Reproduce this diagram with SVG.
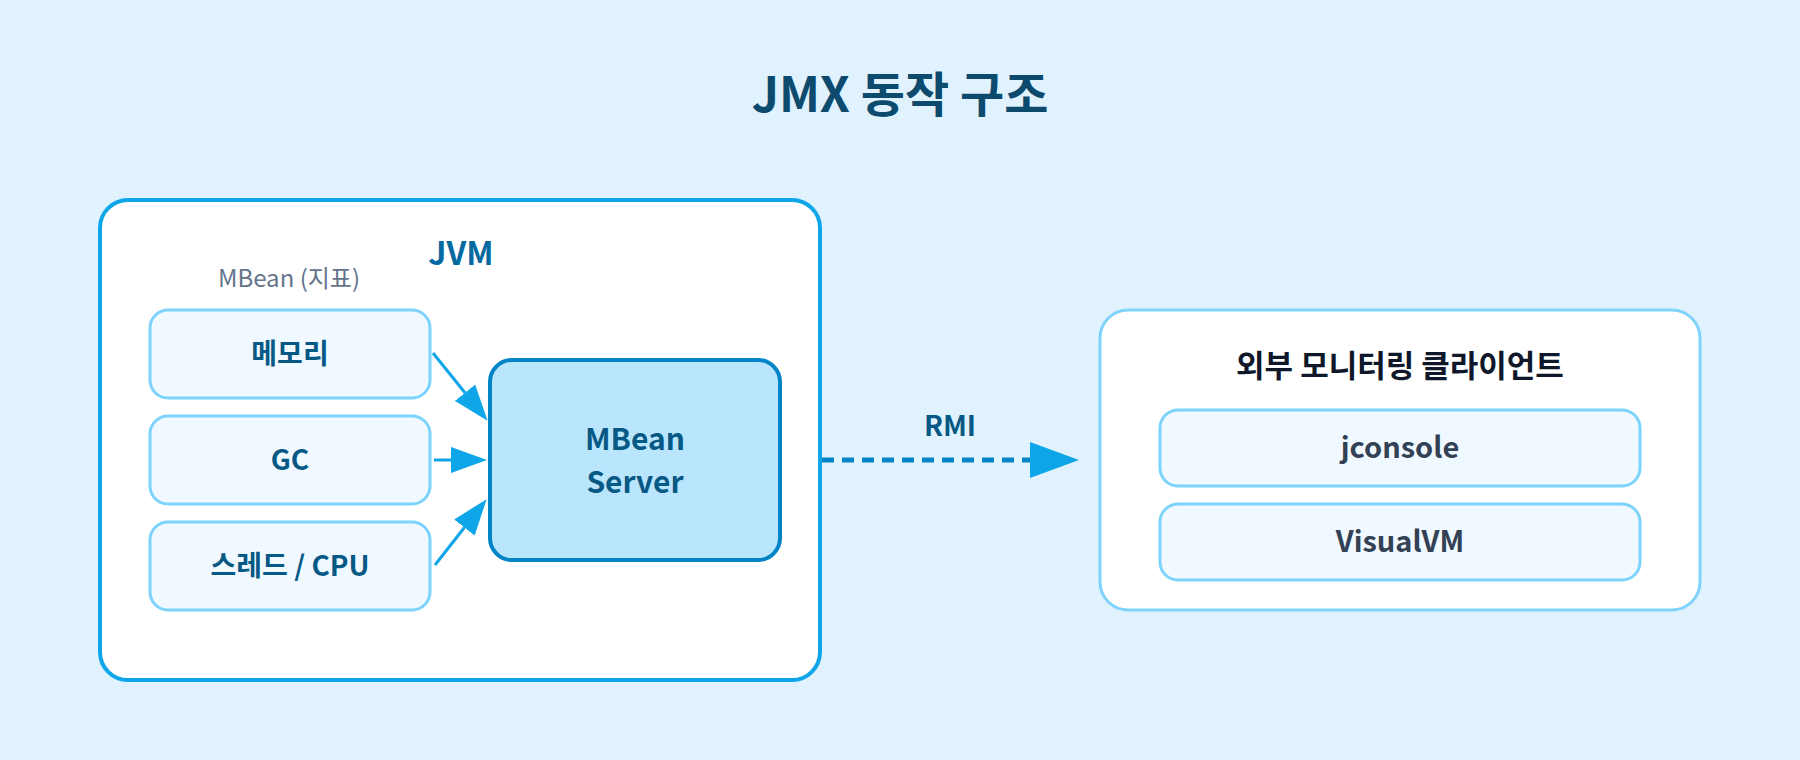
<svg xmlns="http://www.w3.org/2000/svg" width="1800" height="760" viewBox="0 0 1800 760">
  <style>
    text { font-family: "Noto Sans CJK KR", "Noto Sans", sans-serif; font-weight: 700; text-anchor: middle; }
    .title { font-size: 48px; fill: #0c4a6e; }
    .jvm { fill: #ffffff; stroke: #0ea5e9; stroke-width: 4; }
    .jvmlabel { font-size: 32px; fill: #0369a1; }
    .sublabel { font-size: 24px; font-weight: 400; fill: #64748b; }
    .metric { fill: #f0f9ff; stroke: #7dd3fc; stroke-width: 3; }
    .metrictext { font-size: 28px; fill: #075985; }
    .server { fill: #bae6fd; stroke: #0284c7; stroke-width: 4; }
    .servertext { font-size: 30px; fill: #075985; }
    .client { fill: #ffffff; stroke: #7dd3fc; stroke-width: 3; }
    .clienttitle { font-size: 31px; fill: #0f172a; }
    .tooltext { font-size: 29px; fill: #334155; }
    .feed { stroke: #0ea5e9; stroke-width: 3; fill: none; }
    .rmi { stroke: #0284c7; stroke-width: 5; fill: none; stroke-dasharray: 12 8; }
    .rmilabel { font-size: 28px; fill: #075985; }
  </style>
  <defs>
    <marker id="head" markerUnits="userSpaceOnUse" markerWidth="36" markerHeight="26" refX="0" refY="13" orient="auto">
      <path d="M0,0 L36,13 L0,26 Z" fill="#0ea5e9"/>
    </marker>
    <marker id="bighead" markerUnits="userSpaceOnUse" markerWidth="49" markerHeight="36" refX="0" refY="18" orient="auto">
      <path d="M0,0 L49,18 L0,36 Z" fill="#0ea5e9"/>
    </marker>
  </defs>
  <rect x="0" y="0" width="1800" height="760" fill="#e0f2fe"/>

  <text class="title" x="900" y="112">JMX 동작 구조</text>

  <g id="jvm">
    <rect class="jvm" x="100" y="200" width="720" height="480" rx="28"/>
    <text class="jvmlabel" x="461" y="265">JVM</text>
    <text class="sublabel" x="289" y="287">MBean (지표)</text>
  </g>

  <g id="memory">
    <rect class="metric" x="150" y="310" width="280" height="88" rx="18"/>
    <text class="metrictext" x="290" y="364">메모리</text>
  </g>
  <g id="gc">
    <rect class="metric" x="150" y="416" width="280" height="88" rx="18"/>
    <text class="metrictext" x="290" y="470">GC</text>
  </g>
  <g id="thread">
    <rect class="metric" x="150" y="522" width="280" height="88" rx="18"/>
    <text class="metrictext" x="290" y="576">스레드 / CPU</text>
  </g>

  <g id="mbean-server">
    <rect class="server" x="490" y="360" width="290" height="200" rx="22"/>
    <text class="servertext" x="635" y="450">MBean</text>
    <text class="servertext" x="635" y="493">Server</text>
  </g>

  <g id="client">
    <rect class="client" x="1100" y="310" width="600" height="300" rx="28"/>
    <text class="clienttitle" x="1400" y="377">외부 모니터링 클라이언트</text>
  </g>
  <g id="jconsole">
    <rect class="metric" x="1160" y="410" width="480" height="76" rx="18"/>
    <text class="tooltext" x="1400" y="458">jconsole</text>
  </g>
  <g id="visualvm">
    <rect class="metric" x="1160" y="504" width="480" height="76" rx="18"/>
    <text class="tooltext" x="1400" y="552">VisualVM</text>
  </g>

  <g id="connectors">
    <path class="feed" d="M433,353 L465,392.7" marker-end="url(#head)"/>
    <path class="feed" d="M434,460 L451,460" marker-end="url(#head)"/>
    <path class="feed" d="M435,565 L464.4,527.5" marker-end="url(#head)"/>
    <path class="rmi" d="M822,460 L1030,460" marker-end="url(#bighead)"/>
    <text class="rmilabel" x="950" y="436">RMI</text>
  </g>
</svg>
